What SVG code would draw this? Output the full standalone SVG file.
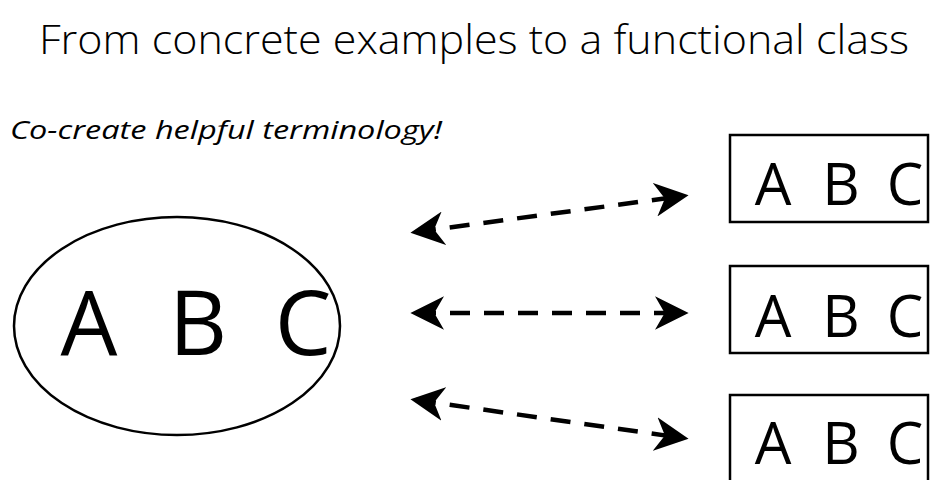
<svg xmlns="http://www.w3.org/2000/svg" width="932" height="480" viewBox="0 0 932 480">
<defs>
<style>
.t{font-family:"Open Sans","Liberation Sans",sans-serif;fill:#000}
.big{font-size:90px;text-anchor:middle}
.sm{font-size:58px;text-anchor:middle}
.box{fill:#fff;stroke:#000;stroke-width:2.5}
.conn{fill:none;stroke:#000;stroke-width:4.5;stroke-dasharray:20 14}
</style>
<marker id="ah" viewBox="0 0 12 12" refX="10" refY="6" markerWidth="7.5" markerHeight="7.5" orient="auto-start-reverse" markerUnits="strokeWidth">
<path d="M0,0 L12,6 L0,12 L3.5,6 Z" fill="#000"/>
</marker>
</defs>
<rect width="932" height="480" fill="#fff"/>
<text class="t" x="474" y="54" text-anchor="middle" font-size="40" font-weight="300" textLength="870" lengthAdjust="spacingAndGlyphs">From concrete examples to a functional class</text>
<text class="t" x="10" y="139" font-size="25" font-style="italic" textLength="432" lengthAdjust="spacingAndGlyphs">Co-create helpful terminology!</text>
<g id="class">
<ellipse cx="177" cy="326" rx="163" ry="109" fill="#fff" stroke="#000" stroke-width="2.5"/>
<text class="t big" x="89" y="355">A</text>
<text class="t big" x="198" y="355">B</text>
<text class="t big" x="303" y="355">C</text>
</g>
<g id="ex1">
<rect class="box" x="730" y="135" width="198" height="87"/>
<text class="t sm" x="773" y="205">A</text>
<text class="t sm" x="841" y="205">B</text>
<text class="t sm" x="905" y="205">C</text>
</g>
<g id="ex2">
<rect class="box" x="730" y="266" width="198" height="87"/>
<text class="t sm" x="773" y="337">A</text>
<text class="t sm" x="841" y="337">B</text>
<text class="t sm" x="905" y="337">C</text>
</g>
<g id="ex3">
<rect class="box" x="730" y="395" width="198" height="95"/>
<text class="t sm" x="773" y="464">A</text>
<text class="t sm" x="841" y="464">B</text>
<text class="t sm" x="905" y="464">C</text>
</g>
<g id="connectors">
<line class="conn" x1="416" y1="232" x2="683" y2="196" marker-start="url(#ah)" marker-end="url(#ah)"/>
<line class="conn" x1="416" y1="313" x2="683" y2="313" marker-start="url(#ah)" marker-end="url(#ah)"/>
<line class="conn" x1="416" y1="400" x2="683" y2="438" marker-start="url(#ah)" marker-end="url(#ah)"/>
</g>
</svg>
